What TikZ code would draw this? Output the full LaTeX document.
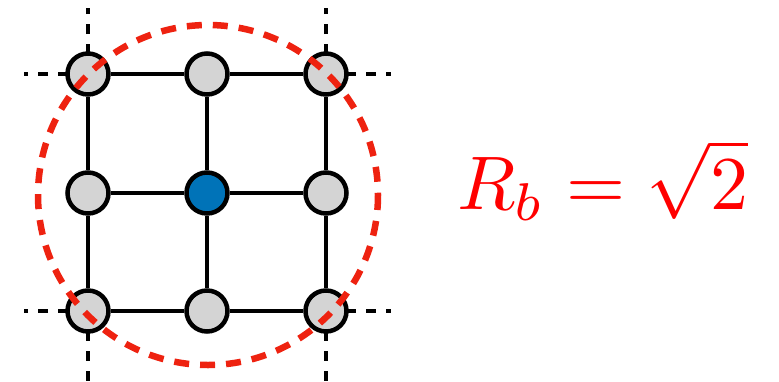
\documentclass[tikz,border=0pt]{standalone}
\usepackage{graphicx}
\usepackage{tikz}
\definecolor{nodegray}{HTML}{D4D4D4}
\definecolor{nodeblue}{HTML}{0073B8}
\definecolor{ringred}{HTML}{EE2210}
\begin{document}
\begin{tikzpicture}[x=1pt,y=-1pt,
  site/.style={circle,draw=black,line width=4.5pt,fill=nodegray,minimum size=41pt,inner sep=0pt},
  centersite/.style={site,fill=nodeblue},
  bond/.style={draw=black,line width=4.5pt},
  openbond/.style={draw=black,line width=4.5pt,dash pattern=on 10pt off 10pt},
  ring/.style={draw=ringred,line width=6.5pt,dash pattern=on 15pt off 11pt}]
\useasboundingbox (0,0) rectangle (779,381);
% coordinates for open ends
\coordinate (t1) at (88,8);
\coordinate (t3) at (326,8);
\coordinate (b1) at (88,381);
\coordinate (b3) at (326,381);
\coordinate (l1) at (24,74);
\coordinate (l3) at (24,311);
\coordinate (r1) at (391,74);
\coordinate (r3) at (391,311);
% site positions
\coordinate (p11) at (88,74);
\coordinate (p13) at (326,74);
\coordinate (p31) at (88,311);
\coordinate (p33) at (326,311);
\draw[openbond] (p11) -- (t1);
\draw[openbond] (p11) -- (l1);
\draw[openbond] (p13) -- (t3);
\draw[openbond] (p13) -- (r1);
\draw[openbond] (p31) -- (b1);
\draw[openbond] (p31) -- (l3);
\draw[openbond] (p33) -- (b3);
\draw[openbond] (p33) -- (r3);
\node[site] (n11) at (88,74) {};
\node[site] (n12) at (207,74) {};
\node[site] (n13) at (326,74) {};
\node[site] (n21) at (88,193) {};
\node[centersite] (n22) at (207,193) {};
\node[site] (n23) at (326,193) {};
\node[site] (n31) at (88,311) {};
\node[site] (n32) at (207,311) {};
\node[site] (n33) at (326,311) {};
\draw[bond] (n11) -- (n12);
\draw[bond] (n12) -- (n13);
\draw[bond] (n21) -- (n22);
\draw[bond] (n22) -- (n23);
\draw[bond] (n31) -- (n32);
\draw[bond] (n32) -- (n33);
\draw[bond] (n11) -- (n21);
\draw[bond] (n21) -- (n31);
\draw[bond] (n12) -- (n22);
\draw[bond] (n22) -- (n32);
\draw[bond] (n13) -- (n23);
\draw[bond] (n23) -- (n33);
\coordinate (c) at (208,195);
\draw[ring] (c) circle[radius=170];
\node[anchor=base west,inner sep=0pt,text=red] (lbl) at (457,209) {\scalebox{7.6}{$R_b = \sqrt{2}$}};
\end{tikzpicture}
\end{document}
